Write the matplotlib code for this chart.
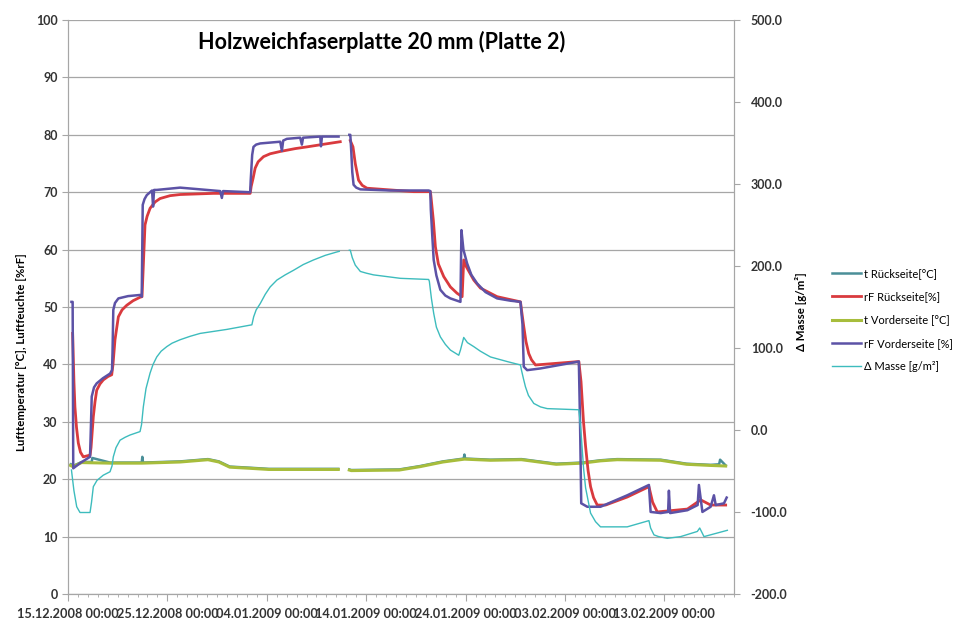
import numpy as np
import matplotlib
matplotlib.use('Agg')
import matplotlib.pyplot as plt
import matplotlib.dates as mdates
from matplotlib.ticker import MultipleLocator, FormatStrFormatter
from datetime import datetime

plt.rcParams['font.family'] = ['Lato', 'DejaVu Sans']

START = mdates.date2num(datetime(2008, 12, 15))
NAN = np.nan

# --- Messwerte (Tage seit 15.12.2008 00:00), NAN = Messlücke ---
# rF Vorderseite [%]
rfv_tage = [0.35, 0.47, 0.53, 1.21, 2.22, 2.32, 2.39, 2.62, 2.89, 3.52, 4.23, 4.43,
            4.48, 4.56, 4.73, 5.07, 6.04, 7.25, 7.42, 7.52, 7.70, 7.93, 8.26, 8.46,
            8.56, 8.66, 8.93, 11.28, 15.31, 15.48, 15.6, 18.33, 18.38, 18.53, 18.66,
            18.93, 19.34, 21.35, 21.52, 21.65, 22.02, 23.36, 23.53, 23.65, 25.38,
            25.45, 25.55, 27.22, 27.8,
            28.3, 28.4, 28.50, 28.60, 28.73, 29.00, 29.41, 32.43, 36.28, 36.45,
            36.50, 36.66, 36.79, 37.06, 37.46, 37.96, 38.47, 39.48, 39.58, 39.78,
            40.15, 40.58, 41.16, 42.00, 43.17, 44.51, 45.52, 45.72, 45.85, 46.19,
            47.53, 51.39, 51.51, 51.63, 52.24, 53.57, 56.26, 58.44, 58.61, 59.62,
            60.37, 60.45, 60.57, 62.31, 63.34, 63.47, 63.82, 64.65, 64.98, 65.16,
            65.99, 66.26]
rfv_wert = [50.9, 50.9, 21.9, 22.8, 23.9, 30.0, 34.4, 36.0, 36.7, 37.6, 38.4, 39.0,
            42.0, 49.5, 50.7, 51.5, 51.9, 52.1, 51.8, 67.8, 68.8, 69.5, 70.0, 70.3,
            67.5, 70.4, 70.4, 70.8, 70.2, 69.0, 70.2, 70.0, 72.0, 76.5, 77.9,
            78.3, 78.5, 78.8, 77.2, 79.0, 79.3, 79.5, 78.3, 79.5, 79.7,
            78.0, 79.7, 79.7, NAN,
            80.0, 80.0, 77.0, 73.5, 71.3, 70.8, 70.5, 70.3, 70.3, 70.2,
            67.0, 62.0, 58.2, 55.5, 53.0, 52.0, 51.5, 50.9, 63.4, 60.0,
            57.6, 55.6, 54.1, 52.6, 51.5, 51.1, 50.9, 47.0, 39.6, 39.0,
            39.3, 40.5, 30.0, 15.8, 15.2, 15.2, 17.2, 19.0, 14.3, 14.1,
            14.3, 18.0, 14.1, 14.6, 15.5, 19.0, 14.3, 15.2, 17.2, 15.5,
            15.8, 16.8]

# rF Rückseite [%]
rfr_tage = [0.47, 0.60, 0.70, 0.86, 1.04, 1.26, 1.54, 2.22, 2.32, 2.55, 2.72, 2.89,
            3.22, 3.55, 4.03, 4.40, 4.53, 4.73, 5.07, 5.44, 5.91, 6.55, 7.25, 7.45,
            7.55, 7.75, 7.96, 8.26, 8.76, 9.26, 10.27, 11.28, 14.63, 18.33, 18.43,
            18.63, 18.83, 19.13, 19.67, 20.34, 21.35, 22.86, 24.04, 25.88, 27.39, 27.8,
            28.40, 28.67, 28.90, 29.23, 29.60, 30.08, 34.77, 36.45, 36.50, 36.76,
            36.96, 37.26, 37.80, 38.47, 39.14, 39.65, 39.81, 40.08, 40.82, 41.49,
            43.17, 45.52, 45.62, 45.85, 46.07, 46.35, 46.63, 47.03, 51.39, 51.61,
            51.86, 52.07, 52.32, 52.57, 52.87, 53.24, 54.08, 56.26, 58.44, 58.81,
            59.28, 62.31, 63.65, 64.65, 66.16]
rfr_wert = [45.4, 37.0, 32.6, 29.0, 26.3, 24.7, 23.9, 24.2, 25.5, 30.9, 33.5, 35.5,
            36.6, 37.3, 37.9, 38.2, 40.0, 44.3, 48.3, 49.5, 50.3, 51.1, 51.7, 51.8,
            56.0, 64.3, 65.8, 67.2, 68.3, 68.9, 69.4, 69.6, 69.8, 69.8, 71.0,
            72.5, 74.2, 75.3, 76.2, 76.7, 77.1, 77.6, 77.9, 78.4, 78.8, NAN,
            79.0, 77.9, 75.0, 72.1, 71.2, 70.7, 70.1, 70.1, 69.5, 65.0,
            60.5, 57.5, 55.3, 53.5, 52.4, 51.8, 58.2, 57.0, 54.7, 53.3,
            51.8, 50.9, 49.5, 46.6, 44.0, 41.9, 40.8, 39.9, 40.5, 37.0,
            30.0, 25.7, 21.5, 18.7, 16.8, 15.5, 15.5, 16.9, 18.7, 16.0,
            14.3, 14.8, 16.4, 15.5, 15.5]

# t Vorderseite [°C]
tv_tage = [0.25, 0.50, 1.38, 4.23, 7.45, 11.28, 14.08, 15.18, 16.27, 18.33, 20.21,
           23.36, 27.19, 27.8,
           28.3, 28.5, 33.33, 35.45, 37.72, 39.88, 42.50, 45.62, 49.11, 51.73,
           53.57, 55.24, 59.62, 62.23, 64.65, 66.16]
tv_wert = [22.4, 22.2, 22.9, 22.8, 22.8, 23.0, 23.4, 23.0, 22.1, 21.9, 21.7,
           21.7, 21.7, NAN,
           21.6, 21.5, 21.6, 22.2, 23.0, 23.5, 23.3, 23.4, 22.6, 22.8,
           23.2, 23.4, 23.3, 22.6, 22.4, 22.3]

# t Rückseite [°C]
tr_tage = [0.30, 0.50, 1.38, 2.39, 2.45, 4.23, 7.42, 7.48, 7.55, 11.28, 14.08, 15.18,
           16.27, 18.33, 20.21, 23.36, 27.19, 27.8,
           28.3, 28.5, 33.33, 35.45, 37.72, 39.81, 39.88, 39.95, 42.50, 45.62,
           49.11, 51.73, 53.57, 55.24, 59.62, 62.23, 64.65, 65.5, 65.6, 66.16]
tr_wert = [22.6, 22.3, 23.0, 23.0, 23.7, 22.9, 22.9, 23.9, 22.9, 23.1, 23.5, 23.1,
           22.2, 22.0, 21.8, 21.8, 21.8, NAN,
           21.7, 21.6, 21.7, 22.3, 23.1, 23.6, 24.3, 23.6, 23.4, 23.5,
           22.7, 22.9, 23.3, 23.5, 23.4, 22.7, 22.5, 22.6, 23.4, 22.4]

# Δ Masse [g/m²]
masse_tage = [0.35, 0.60, 0.88, 1.21, 2.22, 2.37, 2.55, 2.92, 3.55, 4.23, 4.43, 4.56,
              4.83, 5.24, 5.74, 6.24, 7.25, 7.40, 7.58, 7.85, 8.26, 8.56, 8.93, 9.37,
              9.94, 10.47, 11.28, 12.29, 13.29, 15.98, 18.50, 18.68, 18.93, 19.34,
              19.84, 20.34, 21.02, 21.85, 22.69, 23.67, 24.70, 25.88, 27.06, 27.29, 27.8,
              28.30, 28.40, 28.60, 28.90, 29.41, 30.01, 30.74, 33.43, 36.28, 36.35,
              36.56, 36.79, 37.06, 37.46, 37.96, 38.47, 39.31, 39.48, 39.81, 40.18,
              40.82, 41.49, 42.50, 44.18, 45.52, 45.62, 45.82, 46.02, 46.32, 46.86,
              47.53, 48.21, 51.39, 51.46, 51.66, 51.86, 52.07, 52.57, 53.07, 53.57,
              56.26, 58.44, 58.61, 58.95, 59.42, 60.29, 61.63, 63.31, 63.55, 63.98,
              66.33]
masse_wert = [-48.8, -74.0, -93.6, -100.6, -100.6, -88.0, -69.1, -61.4, -55.1, -50.9,
              -43.9, -32.7, -21.5, -12.4, -8.9, -6.1, -1.9, 6.5, 28.2, 50.6, 69.5,
              80.0, 89.1, 96.1, 101.7, 105.9, 110.1, 114.3, 117.8, 122.7, 128.3,
              138.1, 146.5, 154.2, 165.4, 174.5, 182.9, 189.2, 194.8, 201.8, 207.4,
              213.0, 217.2, 217.9, NAN,
              219.3, 219.3, 210.2, 201.1, 193.4, 191.3, 189.2, 185.0, 183.6, 181.5,
              160.5, 142.3, 125.5, 113.6, 104.5, 97.5, 91.2, 97.5, 112.9, 106.6,
              101.7, 96.1, 89.1, 83.5, 79.3, 73.0, 62.5, 52.7, 42.2, 32.4,
              28.2, 26.1, 24.7, 17.0, -11.0, -46.0, -70.5, -101.3, -111.8, -118.1,
              -118.1, -110.5, -119.5, -127.9, -130.0, -132.1, -130.0, -123.7, -119.5,
              -130.0, -122.3]

x_ticks_tage = [0, 10, 20, 30, 40, 50, 60]


def zu_datum(tage):
    return START + np.array(tage)


fig = plt.figure(figsize=(9.56, 6.26), dpi=100)
ax = fig.add_axes([0.0711, 0.0511, 0.6967, 0.9169])
ax2 = ax.twinx()

gitter = '#a6a6a6'

l1, = ax.plot(zu_datum(tr_tage), tr_wert, color='#4a8f98', lw=1.8, label='t Rückseite[°C]')
l3, = ax.plot(zu_datum(tv_tage), tv_wert, color='#a7bd3c', lw=2.2, label='t Vorderseite [°C]')
l2, = ax.plot(zu_datum(rfr_tage), rfr_wert, color='#d93a3e', lw=2.0, label='rF Rückseite[%]')
l4, = ax.plot(zu_datum(rfv_tage), rfv_wert, color='#5c52a6', lw=1.8, label='rF Vorderseite [%]')
l5, = ax2.plot(zu_datum(masse_tage), masse_wert, color='#3dbcbd', lw=1.0, label='Δ Masse [g/m²]')

# linke Achse
ax.set_ylim(0, 100)
ax.yaxis.set_major_locator(MultipleLocator(10))
ax.yaxis.grid(True, color=gitter, lw=0.9)
ax.set_axisbelow(True)
ax.set_xlim(START, START + 67)
ax.set_xticks(zu_datum(x_ticks_tage))
ax.xaxis.set_major_formatter(mdates.DateFormatter('%d.%m.%Y %H:%M'))
ax.xaxis.set_minor_locator(MultipleLocator(1))
ax.tick_params(axis='x', which='major', length=5, color=gitter, labelsize=9.2, pad=5)
ax.tick_params(axis='x', which='minor', length=2.5, color=gitter)
ax.tick_params(axis='y', length=4, color=gitter, labelsize=9)
for lab in ax.get_xticklabels() + ax.get_yticklabels():
    lab.set_fontweight('bold')
    lab.set_color('#333333')

# rechte Achse
ax2.set_ylim(-200, 500)
ax2.yaxis.set_major_locator(MultipleLocator(100))
ax2.yaxis.set_major_formatter(FormatStrFormatter('%.1f'))
ax2.tick_params(axis='y', length=4, color=gitter, labelsize=9, pad=8)
for lab in ax2.get_yticklabels():
    lab.set_fontweight('bold')
    lab.set_color('#333333')

for a in (ax, ax2):
    a.spines['top'].set_visible(False)
    for s in ('left', 'right', 'bottom'):
        a.spines[s].set_color(gitter)

ax.text(0.471, 0.962, 'Holzweichfaserplatte 20 mm (Platte 2)', transform=ax.transAxes,
        ha='center', va='center', fontsize=15.5, fontweight='bold')

fig.text(22 / 956, 1 - 352 / 626, 'Lufttemperatur [°C], Luftfeuchte [%rF]', rotation=90,
         ha='center', va='center', fontsize=8.3, fontweight='bold')
fig.text(801 / 956, 1 - 312 / 626, 'Δ Masse [g/m²]', rotation=90,
         ha='center', va='center', fontsize=8.3, fontweight='bold')

fig.legend(handles=[l1, l2, l3, l4, l5], loc='upper left',
           bbox_to_anchor=(822 / 956, 1 - 258 / 626), frameon=False, fontsize=8,
           handlelength=2.6, labelspacing=1.1, handletextpad=0.3)

fig.savefig('out.png', dpi=100)
